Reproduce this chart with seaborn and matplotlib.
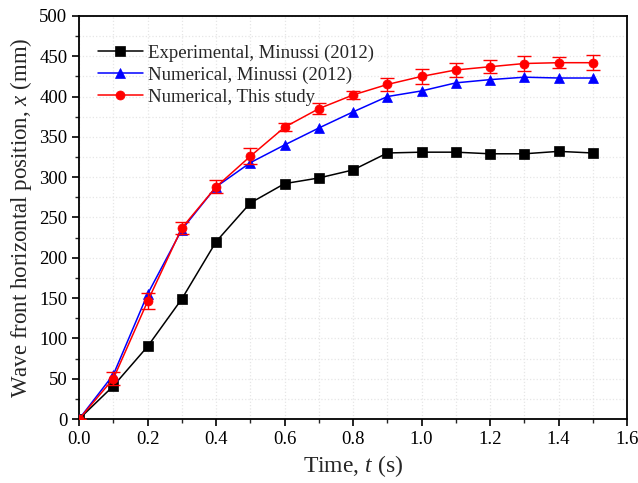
import matplotlib
matplotlib.use("Agg")
import matplotlib.pyplot as plt
import seaborn as sns
import numpy as np
import pandas as pd
from matplotlib.ticker import MultipleLocator

time = [0.0, 0.1, 0.2, 0.3, 0.4, 0.5, 0.6, 0.7, 0.8, 0.9, 1.0, 1.1, 1.2, 1.3, 1.4, 1.5]
exp_minussi = [0, 41, 90, 149, 220, 268, 292, 299, 309, 330, 331, 331, 329, 329, 332, 330]
num_minussi = [0, 55, 155, 235, 288, 318, 340, 361, 381, 400, 407, 417, 421, 424, 423, 423]
num_this = [0, 50, 146, 237, 288, 326, 362, 385, 402, 415, 425, 433, 437, 441, 442, 442]
num_this_err = [0, 8, 10, 8, 8, 10, 5, 7, 5, 8, 9, 9, 8, 9, 7, 9]

labels = ["Experimental, Minussi (2012)", "Numerical, Minussi (2012)", "Numerical, This study"]

sns.set_theme(style="ticks")
plt.rcParams['font.family'] = ['Liberation Serif', 'DejaVu Serif']
plt.rcParams['mathtext.fontset'] = 'custom'
plt.rcParams['mathtext.it'] = 'Liberation Serif:italic'
plt.rcParams['mathtext.rm'] = 'Liberation Serif'

fig = plt.figure(figsize=(6.38, 4.83), dpi=100)
ax = fig.add_axes([0.124, 0.1325, 0.859, 0.8345])

df = pd.DataFrame({"t": time * 3,
                   "x": exp_minussi + num_minussi + num_this,
                   "series": [labels[0]] * 16 + [labels[1]] * 16 + [labels[2]] * 16})

colors = {labels[0]: "black", labels[1]: "blue", labels[2]: "red"}
markers = {labels[0]: "s", labels[1]: "^", labels[2]: "o"}

sns.lineplot(data=df, x="t", y="x", hue="series", style="series",
             palette=colors, markers=markers, dashes=False, markersize=6.5,
             markeredgewidth=0.5, linewidth=1.1, ax=ax, zorder=3)

for ln in ax.lines:
    ln.set_markeredgecolor(ln.get_color())

ax.errorbar(time, num_this, yerr=num_this_err, fmt="none", ecolor="red",
            elinewidth=1.0, capsize=5, capthick=1.0, zorder=4)

ax.set_xlim(0, 1.6)
ax.set_ylim(0, 500)
ax.xaxis.set_major_locator(MultipleLocator(0.2))
ax.xaxis.set_minor_locator(MultipleLocator(0.1))
ax.yaxis.set_major_locator(MultipleLocator(50))
ax.yaxis.set_minor_locator(MultipleLocator(25))
ax.set_xticks(np.arange(0, 1.61, 0.2))
ax.set_xticklabels([f"{v:.1f}" for v in np.arange(0, 1.61, 0.2)])

ax.grid(True, which="both", color="#e6e6e6", linestyle=":", linewidth=0.9)
ax.set_axisbelow(True)
for s in ax.spines.values():
    s.set_linewidth(1.3)
    s.set_color("black")
ax.tick_params(which="major", direction="out", length=5, width=1.2, labelsize=13.5, colors="black")
ax.tick_params(which="minor", direction="out", length=3, width=1.0)

ax.set_xlabel("Time, $t$ (s)", fontsize=17)
ax.set_ylabel("Wave front horizontal position, $x$ (mm)", fontsize=16.5)

leg = ax.legend(loc="upper left", frameon=False, fontsize=13.5, handlelength=2.4,
                handletextpad=0.3, bbox_to_anchor=(0.0, 0.975), borderaxespad=0.6,
                labelspacing=0.25)

fig.savefig("out.png", dpi=100)
